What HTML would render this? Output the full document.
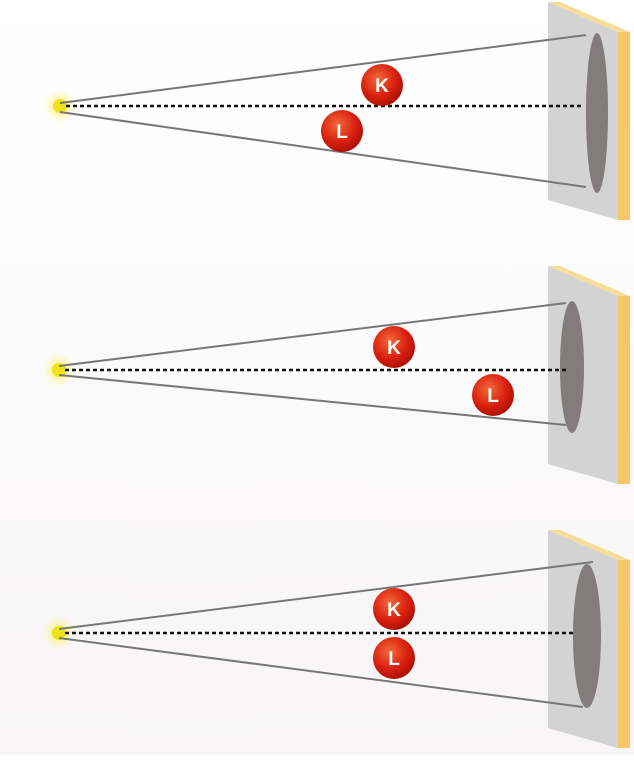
<!DOCTYPE html>
<html><head><style>html,body{margin:0;padding:0;background:#fff}</style></head><body>
<svg width="634" height="755" viewBox="0 0 634 755" xmlns="http://www.w3.org/2000/svg" font-family="Liberation Sans, sans-serif">
<defs>
<linearGradient id="bg" x1="0" y1="0" x2="0" y2="1"><stop offset="0" stop-color="#ffffff"/><stop offset="1" stop-color="#f7f5f5"/></linearGradient>
<radialGradient id="ball" cx="0.4" cy="0.35" r="0.7"><stop offset="0" stop-color="#f26a3a"/><stop offset="0.6" stop-color="#d9200f"/><stop offset="1" stop-color="#a80d05"/></radialGradient>
<radialGradient id="glow"><stop offset="0" stop-color="#f2e600" stop-opacity="0.7"/><stop offset="1" stop-color="#fff8a0" stop-opacity="0"/></radialGradient>
<g id="screen">
<polygon points="548,2 618,32 618,220 548,200" fill="#d4d3d3"/>
<polygon points="548,2 560,2 630,32 618,32" fill="#f7dd9a"/>
<polygon points="618,32 630,32 630,220 618,220" fill="#f6c56c"/>
</g>
</defs>
<rect width="634" height="755" fill="url(#bg)"/>
<!-- panel 1 -->
<use href="#screen"/>
<ellipse cx="597" cy="113" rx="11" ry="80" fill="#827c7c"/>
<circle cx="60" cy="106" r="18" fill="url(#glow)"/><circle cx="60" cy="106" r="7" fill="#efe21a"/>
<line x1="60" y1="103" x2="586" y2="35" stroke="#777" stroke-width="2"/>
<line x1="60" y1="112" x2="586" y2="187" stroke="#777" stroke-width="2"/>
<line x1="66" y1="106" x2="582" y2="106" stroke="#111" stroke-width="2.5" stroke-dasharray="4,3"/>
<circle cx="382" cy="85" r="21" fill="url(#ball)"/><text x="382" y="92" text-anchor="middle" font-weight="bold" font-size="19" fill="#fff">K</text>
<circle cx="342" cy="131" r="21" fill="url(#ball)"/><text x="342" y="138" text-anchor="middle" font-weight="bold" font-size="19" fill="#fff">L</text>
<!-- panel 2 -->
<use href="#screen" y="264"/>
<ellipse cx="572" cy="367" rx="12" ry="66" fill="#827c7c"/>
<circle cx="59" cy="370" r="18" fill="url(#glow)"/><circle cx="59" cy="370" r="7" fill="#efe21a"/>
<line x1="59" y1="366" x2="566" y2="303" stroke="#777" stroke-width="2"/>
<line x1="59" y1="375" x2="566" y2="425" stroke="#777" stroke-width="2"/>
<line x1="65" y1="370" x2="566" y2="370" stroke="#111" stroke-width="2.5" stroke-dasharray="4,3"/>
<circle cx="394" cy="347" r="21" fill="url(#ball)"/><text x="394" y="354" text-anchor="middle" font-weight="bold" font-size="19" fill="#fff">K</text>
<circle cx="493" cy="395" r="21" fill="url(#ball)"/><text x="493" y="402" text-anchor="middle" font-weight="bold" font-size="19" fill="#fff">L</text>
<!-- panel 3 -->
<use href="#screen" y="528"/>
<ellipse cx="587" cy="636" rx="14" ry="72" fill="#827c7c"/>
<circle cx="59" cy="633" r="18" fill="url(#glow)"/><circle cx="59" cy="633" r="7" fill="#efe21a"/>
<line x1="59" y1="629" x2="593" y2="562" stroke="#777" stroke-width="2"/>
<line x1="59" y1="638" x2="583" y2="707" stroke="#777" stroke-width="2"/>
<line x1="65" y1="633" x2="574" y2="633" stroke="#111" stroke-width="2.5" stroke-dasharray="4,3"/>
<circle cx="394" cy="609" r="21" fill="url(#ball)"/><text x="394" y="616" text-anchor="middle" font-weight="bold" font-size="19" fill="#fff">K</text>
<circle cx="394" cy="658" r="21" fill="url(#ball)"/><text x="394" y="665" text-anchor="middle" font-weight="bold" font-size="19" fill="#fff">L</text>
</svg>
</body></html>
